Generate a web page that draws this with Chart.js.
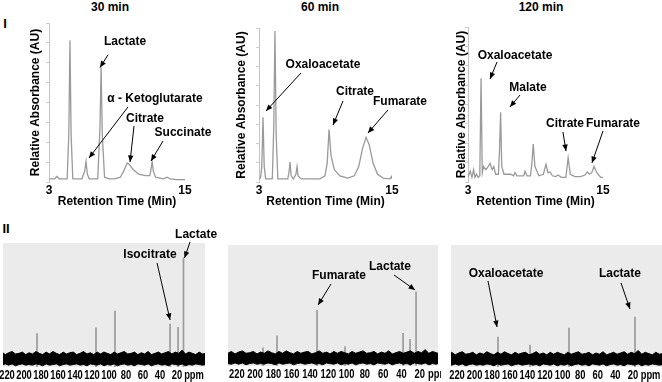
<!DOCTYPE html>
<html>
<head>
<meta charset="utf-8">
<script src="https://cdn.jsdelivr.net/npm/chart.js@4.4.0/dist/chart.umd.min.js"></script>
<style>
body { margin: 0; width: 662px; height: 382px; background: #fff; position: relative; overflow: hidden; font-family: 'Liberation Sans', Arial, sans-serif; }
.box { position: absolute; }
.lbl { position: absolute; font-weight: bold; font-size: 12px; transform: translate(-50%, -50%); white-space: nowrap; }
</style>
</head>
<body>
<div class="lbl" style="left:5px;top:23px;font-size:13px">I</div>
<div class="lbl" style="left:6px;top:228px;font-size:13px">II</div>
<div class="lbl" style="left:110px;top:7px">30 min</div>
<div class="lbl" style="left:320px;top:7px">60 min</div>
<div class="lbl" style="left:541px;top:7px">120 min</div>

<div class="box" style="left:24px;top:0;width:190px;height:211px"><canvas id="hplc30"></canvas></div>
<div class="box" style="left:230px;top:0;width:200px;height:211px"><canvas id="hplc60"></canvas></div>
<div class="box" style="left:450px;top:0;width:212px;height:211px"><canvas id="hplc120"></canvas></div>
<div class="box" style="left:0;top:225px;width:220px;height:157px"><canvas id="nmr30"></canvas></div>
<div class="box" style="left:222px;top:225px;width:219px;height:157px"><canvas id="nmr60"></canvas></div>
<div class="box" style="left:444px;top:225px;width:218px;height:157px"><canvas id="nmr120"></canvas></div>

<script>
// HPLC traces (retention time in min, relative absorbance)
var t30 = [3.0, 3.5, 3.7, 3.9, 4.6, 4.75, 4.85, 4.95, 5.1, 5.9, 6.15, 6.27, 6.38, 6.55, 7.3, 7.5, 7.6, 7.7, 7.9, 8.3,
    8.8, 9.3, 9.6, 9.9, 10.1, 10.4, 10.9, 11.5, 11.9, 12.0, 12.1, 12.2, 12.4, 13.1, 13.4, 13.7, 14.3, 15.0];
var v30 = [0.02, 0.02, 0.035, 0.02, 0.02, 0.3, 0.89, 0.3, 0.02, 0.02, 0.07, 0.13, 0.05, 0.02, 0.02, 0.35, 0.72, 0.3, 0.03, 0.02,
    0.02, 0.03, 0.07, 0.12, 0.11, 0.08, 0.05, 0.04, 0.04, 0.08, 0.126, 0.07, 0.03, 0.02, 0.03, 0.02, 0.015, 0.015];

var t60 = [3.0, 3.15, 3.25, 3.36, 3.47, 3.6, 4.2, 4.33, 4.44, 4.55, 4.7, 5.6, 5.72, 5.8, 5.9, 6.1, 6.33, 6.43, 6.53, 6.8,
    8.5, 8.95, 9.15, 9.32, 9.5, 9.8, 10.3, 11.0, 11.6, 12.0, 12.35, 12.66, 12.95, 13.3, 13.7, 14.2, 14.8, 14.95, 15.0];
var v60 = [0.02, 0.03, 0.1, 0.42, 0.1, 0.02, 0.02, 0.35, 0.98, 0.3, 0.02, 0.02, 0.07, 0.13, 0.04, 0.02, 0.05, 0.1, 0.04, 0.02,
    0.02, 0.04, 0.12, 0.34, 0.17, 0.08, 0.04, 0.025, 0.04, 0.1, 0.22, 0.29, 0.24, 0.12, 0.05, 0.025, 0.02, 0.035, 0.02];

var t120 = [3.0, 3.2, 3.35, 3.5, 3.62, 3.75, 3.9, 4.05, 4.16, 4.27, 4.38, 4.6, 4.8, 4.96, 5.15, 5.3, 5.45, 5.7, 5.8, 5.9,
    6.0, 6.2, 6.8, 7.05, 7.18, 7.35, 7.8, 7.95, 8.07, 8.25, 8.55, 8.68, 8.8, 8.95, 9.3, 9.7, 9.93, 10.1, 10.3, 10.5,
    10.8, 11.0, 11.3, 11.7, 11.9, 12.1, 12.5, 13.0, 13.4, 13.6, 13.8, 14.0, 14.2, 14.45, 14.8, 15.0];
var v120 = [0.03, 0.07, 0.03, 0.08, 0.03, 0.05, 0.03, 0.04, 0.67, 0.06, 0.1, 0.08, 0.1, 0.12, 0.08, 0.1, 0.05, 0.05, 0.2, 0.45,
    0.1, 0.05, 0.05, 0.04, 0.06, 0.04, 0.04, 0.04, 0.07, 0.04, 0.04, 0.12, 0.245, 0.1, 0.04, 0.05, 0.115, 0.06, 0.065, 0.04,
    0.035, 0.045, 0.03, 0.03, 0.155, 0.05, 0.035, 0.035, 0.045, 0.065, 0.05, 0.06, 0.1, 0.06, 0.03, 0.03];

var hplcTicks = [3, 15];

// 13C NMR sticks (ppm, height)
var nmr30Ppm = [184.7, 115.3, 93, 28.2, 18.8, 12.4];
var nmr30Height = [27, 31.5, 45, 34.7, 32, 88];
var nmr60Ppm = [191.4, 176.1, 132.3, 101.7, 38.2, 30.6, 24];
var nmr60Height = [15, 25, 46, 16, 27, 22, 61];
var nmr120Ppm = [173.4, 137, 92.7, 17.7];
var nmr120Height = [24.6, 18, 32, 41];

// noise floor envelope
var noisePpm = [230, 226, 222, 218, 214, 210, 206, 202, 198, 194, 190, 186, 182, 178, 174, 170, 166, 162, 158, 154,
    150, 146, 142, 138, 134, 130, 126, 122, 118, 114, 110, 106, 102, 98, 94, 90, 86, 82, 78, 74,
    70, 66, 62, 58, 54, 50, 46, 42, 38, 34, 30, 26, 22, 18, 14, 10, 6, 2, -2, -6, -10, -14];
var noiseHigh = [10.5, 12, 10, 11.5, 12.5, 10.5, 11, 12, 10, 11.5, 10.5, 12.5, 11, 10, 12, 10.5, 12.5, 11, 10, 12,
    10.5, 11.5, 12, 10, 11, 12.5, 10.5, 11.5, 10, 12, 10.5, 12, 11, 10, 12, 10.5, 11.5, 12.5, 10.5, 11,
    12, 10, 11.5, 10.5, 12.5, 10, 11, 12, 10.5, 11.5, 12.5, 10.5, 12, 11, 13.5, 10.5, 12, 11, 10, 12, 10.5, 11];
var noiseLow = [2, 1.5, 2.5, 1.5, 2.5, 1, 2, 2.5, 1.5, 2, 1.5, 2.5, 2, 1, 2.5, 1.5, 2, 2.5, 1, 2,
    2.5, 1.5, 2, 2.5, 1.5, 2, 1, 2.5, 2, 1.5, 2.5, 1, 2, 1.5, 2.5, 1, 2, 2.5, 1.5, 2,
    1, 2.5, 2, 1.5, 2.5, 1, 2, 2.5, 1.5, 2, 1, 2.5, 2, 1.5, 2.5, 1, 2, 1.5, 2.5, 2, 1.5, 2];

var nmrTicks = [220, 200, 180, 160, 140, 120, 100, 80, 60, 40, 20, 0];

var bold12 = { family: "'Liberation Sans', Arial, sans-serif", size: 12, weight: 'bold' };

function toPoints(xs, ys) {
    return xs.map(function (x, i) { return { x: x, y: ys[i] }; });
}

// labels with arrows, given in data units
var notesPlugin = {
    id: 'notes',
    afterDatasetsDraw: function (chart, args, opts) {
        if (!opts.items) return;
        var ctx = chart.ctx, xs = chart.scales.x, ys = chart.scales.y;
        ctx.save();
        ctx.font = 'bold 12px "Liberation Sans", Arial, sans-serif';
        ctx.fillStyle = '#000';
        ctx.strokeStyle = '#000';
        ctx.lineWidth = 1;
        ctx.textAlign = 'center';
        ctx.textBaseline = 'middle';
        opts.items.forEach(function (n) {
            ctx.fillText(n.text, xs.getPixelForValue(n.at[0]), ys.getPixelForValue(n.at[1]));
            var x1 = xs.getPixelForValue(n.from[0]), y1 = ys.getPixelForValue(n.from[1]);
            var x2 = xs.getPixelForValue(n.to[0]), y2 = ys.getPixelForValue(n.to[1]);
            ctx.beginPath();
            ctx.moveTo(x1, y1);
            ctx.lineTo(x2, y2);
            ctx.stroke();
            var a = Math.atan2(y2 - y1, x2 - x1);
            ctx.beginPath();
            ctx.moveTo(x2, y2);
            ctx.lineTo(x2 - 7 * Math.cos(a - 0.4), y2 - 7 * Math.sin(a - 0.4));
            ctx.lineTo(x2 - 7 * Math.cos(a + 0.4), y2 - 7 * Math.sin(a + 0.4));
            ctx.closePath();
            ctx.fill();
        });
        ctx.restore();
    }
};

var panelPlugin = {
    id: 'panel',
    beforeDatasetsDraw: function (chart, args, opts) {
        if (!opts.color) return;
        var a = chart.chartArea;
        chart.ctx.save();
        chart.ctx.fillStyle = opts.color;
        chart.ctx.fillRect(a.left, a.top, a.right - a.left, a.bottom - a.top);
        chart.ctx.restore();
    }
};

// condensed tick labels for the ppm axis (no narrow font installed)
var squeezePlugin = {
    id: 'squeeze',
    afterDraw: function (chart, args, opts) {
        if (!opts.ratio) return;
        var s = chart.scales.x, ctx = chart.ctx;
        ctx.save();
        ctx.font = 'bold 12px "Liberation Sans", Arial, sans-serif';
        ctx.fillStyle = '#000';
        ctx.textAlign = 'center';
        ctx.textBaseline = 'top';
        s.ticks.forEach(function (t) {
            var label = t.value === 0 ? 'ppm' : String(t.value);
            ctx.save();
            ctx.translate(s.getPixelForValue(t.value), s.top + 3);
            ctx.scale(opts.ratio, 1);
            ctx.fillText(label, 0, 0);
            ctx.restore();
        });
        ctx.restore();
    }
};

Chart.register(notesPlugin, panelPlugin, squeezePlugin);

function drawChromatogram(id, times, values, pad, axisWidth, notes) {
    var config = {
        type: 'line',
        data: {
            datasets: [{
                data: toPoints(times, values),
                borderColor: '#9a9a9a',
                borderWidth: 1.3,
                pointRadius: 0,
                tension: 0,
                fill: false
            }]
        },
        options: {
            animation: false,
            responsive: true,
            maintainAspectRatio: false,
            layout: { padding: { left: 0, top: pad.top, right: pad.right, bottom: 0 } },
            plugins: {
                legend: { display: false },
                tooltip: { enabled: false },
                notes: { items: notes }
            },
            scales: {
                x: {
                    type: 'linear',
                    min: 3,
                    max: 15,
                    afterBuildTicks: function (s) { s.ticks = hplcTicks.map(function (v) { return { value: v }; }); },
                    ticks: { padding: 1, font: bold12, color: '#000', maxRotation: 0, autoSkip: false },
                    grid: { display: false, drawTicks: false },
                    border: { display: false },
                    title: { display: true, text: 'Retention Time (Min)', font: bold12, color: '#000', padding: { top: 0, bottom: 2 } },
                    afterFit: function (s) { s.height = 29; s.paddingLeft = 0; s.paddingRight = 0; }
                },
                y: {
                    min: 0,
                    max: 1,
                    ticks: { display: false, stepSize: 0.125 },
                    grid: { drawOnChartArea: false, color: '#cfcfcf', tickLength: 3 },
                    border: { color: '#c4c4c4' },
                    title: { display: true, text: 'Relative Absorbance (AU)', font: bold12, color: '#000', padding: { top: 4, bottom: 0 } },
                    afterFit: function (s) { s.width = axisWidth; }
                }
            }
        }
    };
    new Chart(document.getElementById(id).getContext('2d'), config);
}

function drawSpectrum(id, ppm, heights, range, pad, axisHeight, notes) {
    var config = {
        type: 'bar',
        data: {
            datasets: [{
                type: 'line',
                data: toPoints(noisePpm, noiseHigh),
                borderColor: '#000',
                borderWidth: 1,
                pointRadius: 0,
                backgroundColor: '#000',
                fill: '+1',
                order: 0
            }, {
                type: 'line',
                data: toPoints(noisePpm, noiseLow),
                borderColor: '#000',
                borderWidth: 1,
                pointRadius: 0,
                fill: false,
                order: 0
            }, {
                type: 'bar',
                data: toPoints(ppm, heights),
                backgroundColor: '#9a9a9a',
                barThickness: 1,
                order: 1
            }]
        },
        options: {
            animation: false,
            responsive: true,
            maintainAspectRatio: false,
            layout: { padding: { left: pad.left, top: pad.top, right: pad.right, bottom: 0 } },
            plugins: {
                legend: { display: false },
                tooltip: { enabled: false },
                panel: { color: '#ebebeb' },
                squeeze: { ratio: 0.78 },
                notes: { items: notes }
            },
            scales: {
                x: {
                    type: 'linear',
                    reverse: true,
                    offset: false,
                    min: range[0],
                    max: range[1],
                    afterBuildTicks: function (s) { s.ticks = nmrTicks.map(function (v) { return { value: v }; }); },
                    ticks: { display: false, autoSkip: false, maxRotation: 0 },
                    grid: { display: false, drawTicks: false },
                    border: { display: false },
                    afterFit: function (s) { s.height = axisHeight; s.paddingLeft = 0; s.paddingRight = 0; }
                },
                y: { display: false, min: 0, max: 100 }
            }
        }
    };
    new Chart(document.getElementById(id).getContext('2d'), config);
}

drawChromatogram('hplc30', t30, v30, { top: 23, right: 29 }, 25, [
    { text: 'Lactate', at: [9.71, 0.88], from: [8.21, 0.8], to: [7.5, 0.72] },
    { text: '\u03b1 - Ketoglutarate', at: [12.35, 0.522], from: [9.97, 0.472], to: [6.53, 0.151] },
    { text: 'Citrate', at: [11.47, 0.4], from: [10.5, 0.352], to: [10.15, 0.126] },
    { text: 'Succinate', at: [14.82, 0.308], from: [13.06, 0.258], to: [12.0, 0.132] }
]);
drawChromatogram('hplc60', t60, v60, { top: 28, right: 38 }, 29, [
    { text: 'Oxaloacetate', at: [8.77, 0.76], from: [6.79, 0.708], to: [3.63, 0.461] },
    { text: 'Citrate', at: [11.66, 0.584], from: [10.58, 0.526], to: [9.68, 0.37] },
    { text: 'Fumarate', at: [15.72, 0.519], from: [14.64, 0.468], to: [12.83, 0.318] }
]);
drawChromatogram('hplc120', t120, v120, { top: 27, right: 59 }, 18, [
    { text: 'Oxaloacetate', at: [7.18, 0.813], from: [5.58, 0.774], to: [4.96, 0.665] },
    { text: 'Malate', at: [8.33, 0.606], from: [7.62, 0.561], to: [6.73, 0.484] },
    { text: 'Citrate', at: [11.62, 0.374], from: [11.44, 0.323], to: [11.71, 0.2] },
    { text: 'Fumarate', at: [15.89, 0.374], from: [15.0, 0.329], to: [14.02, 0.123] }
]);

drawSpectrum('nmr30', nmr30Ppm, nmr30Height, [-12.9, 224.7], { left: 3, top: 18, right: 15 }, 15, [
    { text: 'Isocitrate', at: [51.8, 90.3], from: [43.5, 83.9], to: [28.2, 37.9] },
    { text: 'Lactate', at: [-2.4, 106.5], from: [4.7, 100.8], to: [11.2, 87.9] }
]);
drawSpectrum('nmr60', nmr60Ppm, nmr60Height, [0, 229.7], { left: 6, top: 20, right: 3 }, 16, [
    { text: 'Fumarate', at: [108.3, 74.4], from: [117, 67.8], to: [131.2, 50.4] },
    { text: 'Lactate', at: [52.5, 81.8], from: [48.1, 75.2], to: [25.1, 62.8] }
]);
drawSpectrum('nmr120', nmr120Ppm, nmr120Height, [-13, 226.8], { left: 7, top: 20, right: 0 }, 15, [
    { text: 'Oxaloacetate', at: [164.3, 76.2], from: [184.75, 70.5], to: [174.5, 32.8] },
    { text: 'Lactate', at: [34.8, 76.2], from: [33.6, 68.9], to: [23.4, 47.5] }
]);
</script>
</body>
</html>
